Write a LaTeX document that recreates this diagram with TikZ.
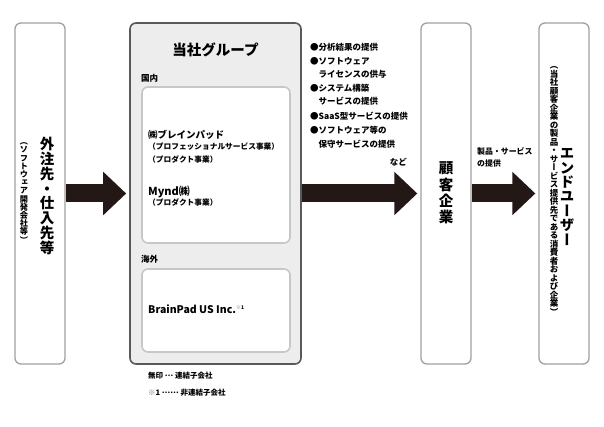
\documentclass[tikz,border=0pt]{standalone}
\usepackage{fontspec}
\setmainfont{Noto Sans CJK JP}
\newfontfamily\tatefont[RawFeature=+vert]{Noto Sans CJK JP}
\usetikzlibrary{arrows.meta}
\definecolor{arrowbrown}{HTML}{231815}
\definecolor{boxgray}{HTML}{A0A0A0}
\definecolor{groupfill}{HTML}{EDEDED}

% vertical (tategaki) text: one character per line
\ExplSyntaxOn
\NewDocumentCommand{\tate}{O{1}m}{
  \vbox{\tatefont \baselineskip=#1em \lineskip=0pt
    \tl_map_inline:nn {#2} {\hbox to 1em {\hss ##1 \hss}}}
}
\ExplSyntaxOff
\newcommand{\kome}{{\color{black!55}※}}
\newcommand{\tenten}[1]{\raisebox{0.3em}{#1}}

\begin{document}
\begin{tikzpicture}[x=1pt,y=-1pt,
    outerbox/.style={draw=boxgray, line width=1.3pt, rounded corners=6pt,
      minimum width=50pt, minimum height=341pt},
    groupbox/.style={draw=black!65, fill=groupfill, line width=1.6pt, rounded corners=6pt},
    innerbox/.style={draw=black!22, fill=white, line width=1.6pt, rounded corners=6pt},
    lbl/.style={font=\bfseries\fontsize{8.5}{13.6}\selectfont, inner sep=0pt},
    bigarrow/.style={arrowbrown, line width=18pt, -{Triangle[length=23pt,width=42pt]}, shorten >=3pt}]
    \useasboundingbox (0,0) rectangle (604,427);

    % boxes
    \node[outerbox] (supplier) at (40,193.5) {};
    \node[groupbox, minimum width=171pt, minimum height=341pt] (group) at (215.5,193.5) {};
    \node[innerbox, minimum width=148pt, minimum height=156pt] (domestic) at (216,165) {};
    \node[innerbox, minimum width=148pt, minimum height=83pt] (overseas) at (216,310.5) {};
    \node[outerbox] (customer) at (446,193.5) {};
    \node[outerbox] (enduser) at (564,193.5) {};

    % left box
    \node[inner sep=0pt, font=\bfseries\fontsize{14.5}{15}\selectfont] (suppliername) at (47,196) {\tate[1.02]{外注先・仕入先等}};
    \node[inner sep=0pt, font=\bfseries\fontsize{8.2}{9}\selectfont] (suppliernote) at (24,193) {\tate{（ソフトウェア開発会社等）}};

    % group
    \node[inner sep=0pt, font=\bfseries\fontsize{14.5}{15}\selectfont] (grouptitle) at (215.5,50) {当社グループ};
    \node[lbl, anchor=west] (domesticlbl) at (141,78) {国内};
    \node[inner sep=0pt, anchor=west, font=\bfseries\fontsize{9.5}{10}\selectfont] (brainpad) at (148,135) {㈱ブレインパッド};
    \node[lbl, anchor=west, font=\bfseries\fontsize{7.7}{8}\selectfont] (bpdiv1) at (148,147) {（プロフェッショナルサービス事業）};
    \node[lbl, anchor=west, font=\bfseries\fontsize{7.7}{8}\selectfont] (bpdiv2) at (148,160) {（プロダクト事業）};
    \node[inner sep=0pt, anchor=west, font=\bfseries\fontsize{11}{11}\selectfont] (mynd) at (148,192) {Mynd㈱};
    \node[lbl, anchor=west, font=\bfseries\fontsize{7.7}{8}\selectfont] (mynddiv) at (148,203) {（プロダクト事業）};
    \node[lbl, anchor=west] (overseaslbl) at (141,259) {海外};
    \node[inner sep=0pt, anchor=west, font=\bfseries\fontsize{10.5}{11}\selectfont] (bpus) at (148,309) {BrainPad US Inc.\textsuperscript{\fontsize{5}{5}\selectfont\kome 1}};

    % legend
    \node[lbl, anchor=west, font=\bfseries\fontsize{7.5}{8}\selectfont] (legend1) at (148,376) {無印 \tenten{…} 連結子会社};
    \node[lbl, anchor=west, font=\bfseries\fontsize{7.5}{8}\selectfont] (legend2) at (148,393) {\kome 1 \tenten{……} 非連結子会社};

    % services
    \node[lbl, anchor=north west, align=left] (services) at (310,43) {●分析結果の提供\\
      ●ソフトウェア\\
      \phantom{●}ライセンスの供与\\
      ●システム構築\\
      \phantom{●}サービスの提供\\[1.5pt]
      ●SaaS型サービスの提供\\
      ●ソフトウェア等の\\
      \phantom{●}保守サービスの提供};
    \node[lbl, anchor=east] (etc) at (407,162) {など};

    % customer
    \node[inner sep=0pt, font=\bfseries\fontsize{14.5}{15}\selectfont] (customername) at (446,193) {\tate[1.12]{顧客企業}};
    \node[lbl, anchor=west, align=left, font=\bfseries\fontsize{7.9}{12}\selectfont] (products) at (477,157) {製品・サービス\\の提供};

    % end user
    \node[inner sep=0pt, font=\bfseries\fontsize{14.5}{15}\selectfont] (endusername) at (567,197) {\tate[0.99]{エンドユーザー}};
    \node[inner sep=0pt, font=\bfseries\fontsize{8.5}{9}\selectfont] (endusernote) at (554,191) {\tate{（当社顧客企業の製品・サービス提供先である消費者および企業）}};

    % flows
    \draw[bigarrow] (supplier.east) -- (group.west);
    \draw[bigarrow] (group.east) -- (customer.west);
    \draw[bigarrow] (customer.east) -- (enduser.west);
\end{tikzpicture}
\end{document}
